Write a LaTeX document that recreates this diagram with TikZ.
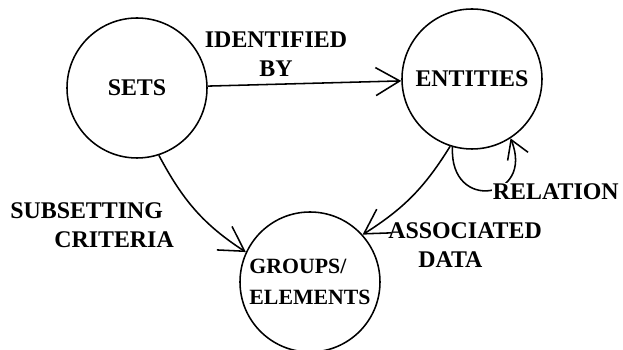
\documentclass[tikz,border=0pt]{standalone}
\usepackage{fontspec}
\setmainfont{Liberation Serif}
\usetikzlibrary{arrows.meta}
\tikzset{
  blob/.style={draw, circle, line width=1.1pt, minimum size=3.5cm, inner sep=0pt},
  arr/.style={line width=1.1pt, -{Straight Barb[length=0.6cm, width=0.7cm]}},
  looparr/.style={line width=1.1pt, -{Straight Barb[length=0.45cm, width=0.55cm]}},
  tag/.style={inner sep=0pt, align=left}
}

\begin{document}
\begin{tikzpicture}[font=\fontsize{17}{20.6}\selectfont\bfseries]
    \useasboundingbox (0,0) rectangle (15.575,8.75);
    \node[blob] (sets) at (3.425,6.55) {SETS}; % upper left circle
    \node[blob] (entities) at (11.8,6.775) {ENTITIES}; % upper right circle
    \node[blob, align=left, font=\fontsize{15.5}{21.5}\selectfont\bfseries] (groups) at (7.75,1.7) {GROUPS/\\ELEMENTS}; % lower circle
    \draw[arr] (sets) -- (entities); % identified by
    \draw[arr] (sets.-72) to[out=-62, in=147] (groups.155); % subsetting
    \draw[arr] (entities.-108) to[bend left=13] (groups.42); % associated data
    \draw[looparr] (entities.-106) .. controls +(-93:1.65) and +(-68:1.65) .. (entities.-57); % self loop
    \node[tag, align=center] (identified) at (6.9,7.4) {IDENTIFIED\\BY}; % label on top arrow
    \node[tag, anchor=west] (subset) at (0.25,3.125) {SUBSETTING\\\hspace*{1.1cm}CRITERIA}; % left label
    \node[tag, anchor=west] (assoc) at (9.7,2.625) {ASSOCIATED\\\hspace*{0.75cm}DATA}; % lower right label
    \node[tag, anchor=west, fill=white, inner sep=0.5pt] (relation) at (12.3,3.95) {RELATION}; % loop label
\end{tikzpicture}
\end{document}
